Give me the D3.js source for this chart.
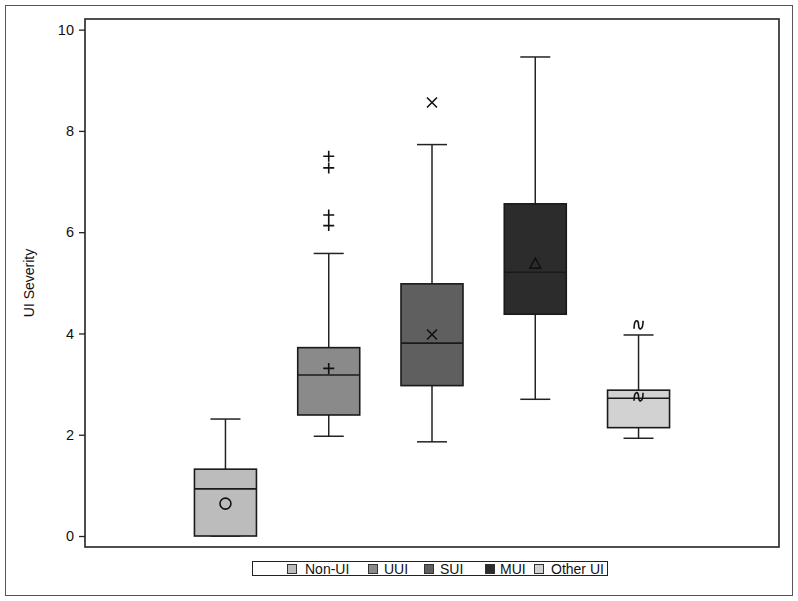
<!DOCTYPE html>
<html>
<head>
<meta charset="utf-8">
<script src="https://cdn.jsdelivr.net/npm/d3@7"></script>
<style>
  body { margin: 0; background: #fff; }
  svg { display: block; font-family: "Liberation Sans", Arial, sans-serif; }
</style>
</head>
<body>
<svg id="chart"></svg>
<script>
// values
const categories = ["Non-UI", "UUI", "SUI", "MUI", "Other UI"];
const whiskerLow = [0.0, 1.97, 1.86, 2.70, 1.93];
const q1 = [0.0, 2.39, 2.97, 4.38, 2.14];
const medians = [0.93, 3.18, 3.81, 5.21, 2.72];
const q3 = [1.32, 3.72, 4.98, 6.56, 2.88];
const whiskerHigh = [2.31, 5.58, 7.73, 9.46, 3.97];
const means = [0.64, 3.31, 3.98, 5.38, 2.75];
const outliers = [[], [6.13, 6.34, 7.27, 7.50], [8.56], [], [4.17]];
const fills = ["#bcbcbc", "#8a8a8a", "#5f5f5f", "#2c2c2c", "#d2d2d2"];
const yTicks = [0, 2, 4, 6, 8, 10];

const W = 798, H = 601;
const margin = { top: 19, right: 19, bottom: 54, left: 85 };

const svg = d3.select("#chart").attr("width", W).attr("height", H);

// outer frame
svg.append("rect")
  .attr("x", 5.5).attr("y", 5.5)
  .attr("width", 787).attr("height", 590)
  .attr("fill", "none").attr("stroke", "#555").attr("stroke-width", 1);

const x = d3.scalePoint()
  .domain(categories)
  .range([margin.left, W - margin.right])
  .padding(1.36);

const y = d3.scaleLinear()
  .domain([-0.217, 10.21])
  .range([H - margin.bottom, margin.top]);

// y axis
const yAxis = svg.append("g")
  .attr("transform", `translate(${margin.left},0)`)
  .call(d3.axisLeft(y).tickValues(yTicks).tickSize(6).tickPadding(5));
yAxis.select(".domain").remove();
yAxis.selectAll("line").attr("stroke", "#222").attr("stroke-width", 1.3);
yAxis.selectAll("text").attr("font-size", 14.5).attr("fill", "#111")
  .attr("font-family", "Liberation Sans, Arial, sans-serif");

svg.append("text")
  .attr("transform", `translate(34,${(margin.top + H - margin.bottom) / 2}) rotate(-90)`)
  .attr("text-anchor", "middle")
  .attr("font-size", 14)
  .attr("fill", "#111")
  .text("UI Severity");

const boxW = 62, capW = 30;

const g = svg.selectAll(".grp")
  .data(categories)
  .join("g")
  .attr("class", "grp");

// whiskers
g.append("line")
  .attr("x1", d => x(d)).attr("x2", d => x(d))
  .attr("y1", (d, i) => y(whiskerHigh[i])).attr("y2", (d, i) => y(q3[i]))
  .attr("stroke", "#222").attr("stroke-width", 1.5);
g.append("line")
  .attr("x1", d => x(d)).attr("x2", d => x(d))
  .attr("y1", (d, i) => y(whiskerLow[i])).attr("y2", (d, i) => y(q1[i]))
  .attr("stroke", "#222").attr("stroke-width", 1.5);
// caps
g.append("line")
  .attr("x1", d => x(d) - capW / 2).attr("x2", d => x(d) + capW / 2)
  .attr("y1", (d, i) => y(whiskerHigh[i])).attr("y2", (d, i) => y(whiskerHigh[i]))
  .attr("stroke", "#222").attr("stroke-width", 1.5);
g.append("line")
  .attr("x1", d => x(d) - capW / 2).attr("x2", d => x(d) + capW / 2)
  .attr("y1", (d, i) => y(whiskerLow[i])).attr("y2", (d, i) => y(whiskerLow[i]))
  .attr("stroke", "#222").attr("stroke-width", 1.5);

// boxes
g.append("rect")
  .attr("x", d => x(d) - boxW / 2)
  .attr("y", (d, i) => y(q3[i]))
  .attr("width", boxW)
  .attr("height", (d, i) => y(q1[i]) - y(q3[i]))
  .attr("fill", (d, i) => fills[i])
  .attr("stroke", "#1a1a1a").attr("stroke-width", 1.6);

// medians
g.append("line")
  .attr("x1", d => x(d) - boxW / 2).attr("x2", d => x(d) + boxW / 2)
  .attr("y1", (d, i) => y(medians[i])).attr("y2", (d, i) => y(medians[i]))
  .attr("stroke", "#1a1a1a").attr("stroke-width", 1.6);

// marker shapes per group (SAS style)
const markerPaths = [
  "M5.5,0A5.5,5.5 0 1,1 -5.5,0A5.5,5.5 0 1,1 5.5,0Z",
  "M-5.5,0H5.5M0,-5.5V5.5",
  "M-5,-5L5,5M-5,5L5,-5",
  "M0,-5.5L5.5,4.5H-5.5Z",
  "M-4.5,4C-4.5,-6 0,-6 0,0C0,6 4.5,6 4.5,-4"
];

function marker(sel, i, v) {
  sel.append("path")
    .attr("d", markerPaths[i])
    .attr("transform", `translate(${x(categories[i])},${y(v)})`)
    .attr("fill", "none")
    .attr("stroke", "#111")
    .attr("stroke-width", 1.6);
}

const marks = svg.append("g");
categories.forEach((c, i) => {
  marker(marks, i, means[i]);
  outliers[i].forEach(v => marker(marks, i, v));
});

// plot frame
svg.append("rect")
  .attr("x", margin.left).attr("y", margin.top)
  .attr("width", W - margin.left - margin.right)
  .attr("height", H - margin.top - margin.bottom)
  .attr("fill", "none").attr("stroke", "#222").attr("stroke-width", 1.6);

// legend
const legend = svg.append("g");
legend.append("rect")
  .attr("x", 252.5).attr("y", 561.5)
  .attr("width", 355).attr("height", 14)
  .attr("fill", "none").attr("stroke", "#222").attr("stroke-width", 1);

const legSwatchX = [287, 368, 424, 485, 534];
const legTextX = [305, 384, 440, 500, 551];
categories.forEach((c, i) => {
  legend.append("rect")
    .attr("x", legSwatchX[i] + 0.5).attr("y", 564.5)
    .attr("width", 9).attr("height", 9)
    .attr("fill", fills[i]).attr("stroke", "#333").attr("stroke-width", 1);
  legend.append("text")
    .attr("x", legTextX[i]).attr("y", 574)
    .attr("font-size", 14).attr("fill", "#111")
    .text(c);
});
</script>
</body>
</html>
